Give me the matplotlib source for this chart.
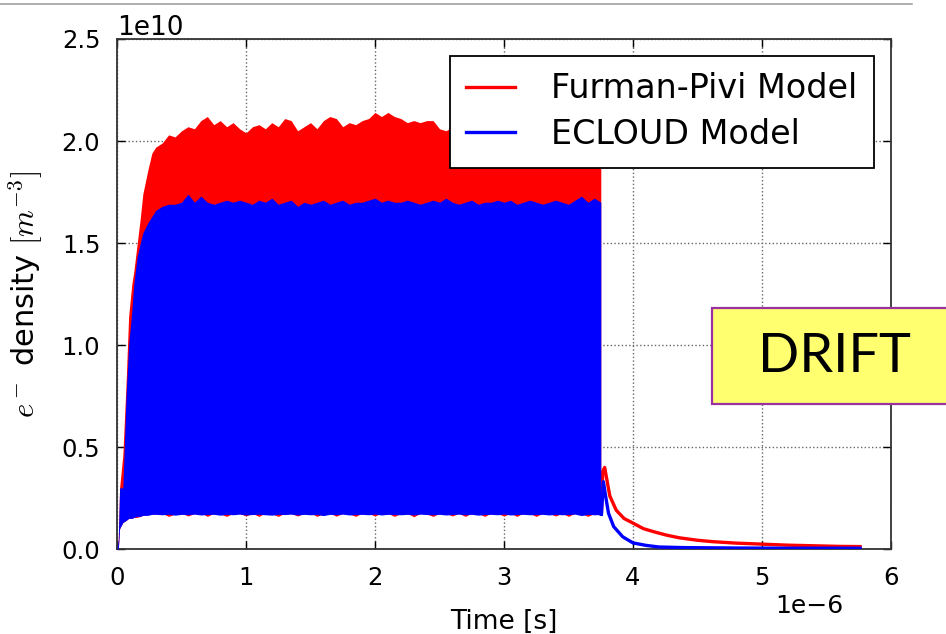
import numpy as np
import matplotlib
matplotlib.use("Agg")
import matplotlib.pyplot as plt
from matplotlib.patches import Rectangle
from matplotlib.lines import Line2D

plt.rcParams['mathtext.fontset'] = 'cm'
plt.rcParams['font.family'] = 'DejaVu Sans'

# time samples of the fast oscillating part [1e-6 s]
t_rise = [0.0, 0.01, 0.02, 0.045, 0.07, 0.09, 0.115, 0.13, 0.155, 0.18, 0.2, 0.24, 0.27, 0.3]
t_flat = [0.35, 0.40, 0.45, 0.50, 0.55, 0.60, 0.65, 0.70, 0.75, 0.80,
          0.85, 0.90, 0.95, 1.00, 1.05, 1.10, 1.15, 1.20, 1.25, 1.30,
          1.35, 1.40, 1.45, 1.50, 1.55, 1.60, 1.65, 1.70, 1.75, 1.80,
          1.85, 1.90, 1.95, 2.00, 2.05, 2.10, 2.15, 2.20, 2.25, 2.30,
          2.35, 2.40, 2.45, 2.50, 2.55, 2.60, 2.65, 2.70, 2.75, 2.80,
          2.85, 2.90, 2.95, 3.00, 3.05, 3.10, 3.15, 3.20, 3.25, 3.30,
          3.35, 3.40, 3.45, 3.50, 3.55, 3.60, 3.65, 3.70, 3.75]

# envelopes of the oscillation [1e10 m^-3]
fp_top_rise = [0, 0.05, 0.30, 0.46, 0.81, 1.14, 1.30, 1.36, 1.49, 1.62, 1.74, 1.86, 1.94, 1.97]
fp_top_flat = [1.99, 2.03, 2.02, 2.05, 2.07, 2.06, 2.10, 2.12, 2.08, 2.10,
               2.07, 2.09, 2.06, 2.04, 2.07, 2.08, 2.06, 2.09, 2.07, 2.11,
               2.10, 2.05, 2.07, 2.09, 2.06, 2.10, 2.12, 2.11, 2.07, 2.09,
               2.08, 2.10, 2.11, 2.14, 2.12, 2.14, 2.12, 2.11, 2.09, 2.10,
               2.09, 2.10, 2.10, 2.06, 2.05, 2.07, 2.05, 2.06, 2.04, 2.06,
               2.05, 2.07, 2.05, 2.04, 2.06, 2.05, 2.07, 2.05, 2.06, 2.04,
               2.05, 2.06, 2.05, 2.04, 2.06, 2.05, 2.04, 2.05, 2.03]
fp_bot_rise = [0, 0.0, 0.10, 0.13, 0.14, 0.15, 0.15, 0.155, 0.155, 0.16, 0.165, 0.17, 0.17, 0.175]
fp_bot_flat = [0.175, 0.160, 0.172, 0.176, 0.162, 0.174, 0.178, 0.160, 0.175, 0.172,
               0.160, 0.176, 0.174, 0.162, 0.175, 0.160, 0.177, 0.173, 0.160, 0.176,
               0.174, 0.162, 0.175, 0.177, 0.160, 0.174, 0.176, 0.161, 0.175, 0.172,
               0.160, 0.176, 0.174, 0.162, 0.177, 0.175, 0.160, 0.174, 0.176, 0.158,
               0.175, 0.172, 0.160, 0.176, 0.174, 0.162, 0.175, 0.160, 0.177, 0.174,
               0.160, 0.176, 0.173, 0.162, 0.175, 0.160, 0.177, 0.174, 0.160, 0.176,
               0.174, 0.162, 0.175, 0.160, 0.176, 0.174, 0.160, 0.175, 0.165]

ec_top_rise = [0, 0.05, 0.30, 0.30, 0.75, 1.00, 1.17, 1.30, 1.43, 1.50, 1.55, 1.60, 1.63, 1.66]
ec_top_flat = [1.68, 1.69, 1.69, 1.70, 1.74, 1.70, 1.73, 1.70, 1.69, 1.70,
               1.71, 1.70, 1.71, 1.70, 1.69, 1.71, 1.70, 1.72, 1.69, 1.70,
               1.71, 1.68, 1.70, 1.69, 1.70, 1.71, 1.69, 1.70, 1.71, 1.69,
               1.70, 1.70, 1.71, 1.72, 1.70, 1.71, 1.70, 1.70, 1.71, 1.70,
               1.69, 1.70, 1.71, 1.70, 1.72, 1.70, 1.69, 1.70, 1.71, 1.69,
               1.70, 1.70, 1.71, 1.70, 1.71, 1.69, 1.70, 1.71, 1.70, 1.69,
               1.70, 1.71, 1.70, 1.69, 1.71, 1.73, 1.70, 1.72, 1.70]
ec_bot_rise = [0, 0.0, 0.10, 0.13, 0.14, 0.15, 0.15, 0.155, 0.16, 0.16, 0.165, 0.165, 0.17, 0.17]
ec_bot_flat = [0.168, 0.170, 0.166, 0.170, 0.168, 0.171, 0.167, 0.169, 0.170, 0.166,
               0.170, 0.168, 0.171, 0.167, 0.169, 0.170, 0.168, 0.166, 0.170, 0.169,
               0.171, 0.167, 0.170, 0.168, 0.169, 0.164, 0.170, 0.168, 0.171, 0.167,
               0.169, 0.170, 0.168, 0.171, 0.167, 0.170, 0.169, 0.168, 0.170, 0.167,
               0.171, 0.169, 0.168, 0.170, 0.167, 0.169, 0.171, 0.168, 0.170, 0.166,
               0.169, 0.170, 0.168, 0.171, 0.167, 0.169, 0.170, 0.168, 0.169, 0.170,
               0.167, 0.170, 0.168, 0.169, 0.171, 0.164, 0.170, 0.168, 0.169]

# decay after the bunch train
fp_t_tail = [3.755, 3.765, 3.78, 3.80, 3.82, 3.87, 3.93, 4.00, 4.08, 4.16,
             4.26, 4.36, 4.50, 4.62, 4.80, 5.00, 5.20, 5.40, 5.60, 5.76]
fp_tail = [0.18, 0.38, 0.40, 0.33, 0.26, 0.19, 0.15, 0.127, 0.10, 0.085,
           0.068, 0.055, 0.043, 0.036, 0.029, 0.024, 0.019, 0.016, 0.013, 0.012]
ec_t_tail = [3.755, 3.77, 3.79, 3.81, 3.85, 3.92, 4.00, 4.10, 4.20, 4.40, 4.80, 5.20, 5.76]
ec_tail = [0.17, 0.33, 0.25, 0.175, 0.11, 0.06, 0.03, 0.018, 0.01, 0.007, 0.005, 0.004, 0.004]

labels = ['Furman-Pivi Model', 'ECLOUD Model']

t_dense = np.array(t_rise + t_flat) * 1e-6
fp_top = np.array(fp_top_rise + fp_top_flat) * 1e10
fp_bot = np.array(fp_bot_rise + fp_bot_flat) * 1e10
ec_top = np.array(ec_top_rise + ec_top_flat) * 1e10
ec_bot = np.array(ec_bot_rise + ec_bot_flat) * 1e10

fig = plt.figure(figsize=(9.46, 6.34), dpi=100)
ax = fig.add_axes([0.1237, 0.134, 0.8182, 0.8045])

ax.fill_between(t_dense, fp_bot, fp_top, color='red', lw=0, zorder=2)
ax.plot(np.array(fp_t_tail) * 1e-6, np.array(fp_tail) * 1e10, color='red', lw=2.4, zorder=2)
ax.fill_between(t_dense, ec_bot, ec_top, color='blue', lw=0, zorder=3)
ax.plot(np.array(ec_t_tail) * 1e-6, np.array(ec_tail) * 1e10, color='blue', lw=2.4, zorder=3)

ax.set_xlim(0, 6e-6)
ax.set_ylim(0, 2.5e10)
ax.set_xticks(np.arange(0, 7) * 1e-6)
ax.set_yticks(np.arange(0, 6) * 0.5e10)
ax.grid(True, color='#666666', linestyle=':', lw=1.0)
ax.set_axisbelow(True)
ax.tick_params(direction='in', top=True, right=True, length=6, width=1,
               labelsize=17.5, pad=12)
for s in ax.spines.values():
    s.set_linewidth(1.3)
    s.set_color('#333333')
ax.xaxis.get_offset_text().set_fontsize(18)
ax.xaxis.get_offset_text().set_x(0.938)
ax.yaxis.get_offset_text().set_fontsize(19)

ax.set_xlabel('Time [s]', fontsize=19, labelpad=14)
ax.set_ylabel(r'$e^-$ density $[m^{-3}]$', fontsize=22, labelpad=12)

handles = [Line2D([], [], color='red', lw=2.4), Line2D([], [], color='blue', lw=2.4)]
leg = ax.legend(handles, labels, loc='upper right', fontsize=24, fancybox=False,
                framealpha=1, edgecolor='black', handlelength=1.45, handletextpad=1.1,
                borderpad=0.5, labelspacing=0.38, borderaxespad=0.5)
leg.get_frame().set_linewidth(1.3)

# slide decorations
fig.add_artist(Line2D([0, 0.964], [0.993, 0.993], color='#999999', lw=1.1,
                      transform=fig.transFigure))
fig.patches.append(Rectangle((0.7526, 0.3628), 0.3, 0.1514, transform=fig.transFigure,
                             facecolor='#ffff70', edgecolor='#9b30a0', lw=1.6,
                             figure=fig, zorder=5))
fig.text(0.882, 0.437, 'DRIFT', fontsize=39, family='Lato', ha='center', va='center',
         zorder=6)

fig.savefig('out.png', dpi=100, facecolor='white')
